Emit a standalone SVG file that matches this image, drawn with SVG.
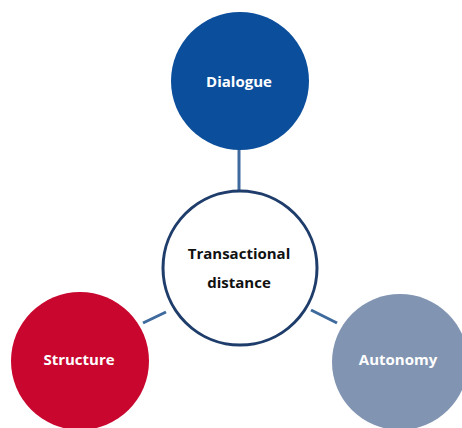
<svg xmlns="http://www.w3.org/2000/svg" width="462" height="428" viewBox="0 0 462 428">
<style>
.lbl{font-family:"Open Sans","Liberation Sans",sans-serif;font-weight:700;font-size:15px;text-anchor:middle;dominant-baseline:central}
.w{fill:#ffffff}
.k{fill:#111111}
.conn{stroke:#3E6A9E;stroke-width:3;fill:none}
</style>
<rect width="462" height="428" fill="#ffffff"/>
<g id="connectors">
<line class="conn" x1="239" y1="148" x2="239" y2="192"/>
<line class="conn" x1="143" y1="323" x2="166" y2="312"/>
<line class="conn" x1="311" y1="310" x2="337" y2="323"/>
</g>
<g id="dialogue">
<circle cx="240" cy="81" r="69" fill="#0B4E9B"/>
<text class="lbl w" x="239" y="81">Dialogue</text>
</g>
<g id="transactional-distance">
<circle cx="240" cy="268" r="77" fill="#ffffff" stroke="#1F3D6B" stroke-width="3"/>
<text class="lbl k" x="239" y="253">Transactional</text>
<text class="lbl k" x="239" y="282">distance</text>
</g>
<g id="structure">
<circle cx="80" cy="361" r="69" fill="#C8062E"/>
<text class="lbl w" x="79" y="359">Structure</text>
</g>
<g id="autonomy">
<circle cx="400" cy="362" r="68" fill="#8194B2"/>
<text class="lbl w" x="398" y="359">Autonomy</text>
</g>
</svg>
